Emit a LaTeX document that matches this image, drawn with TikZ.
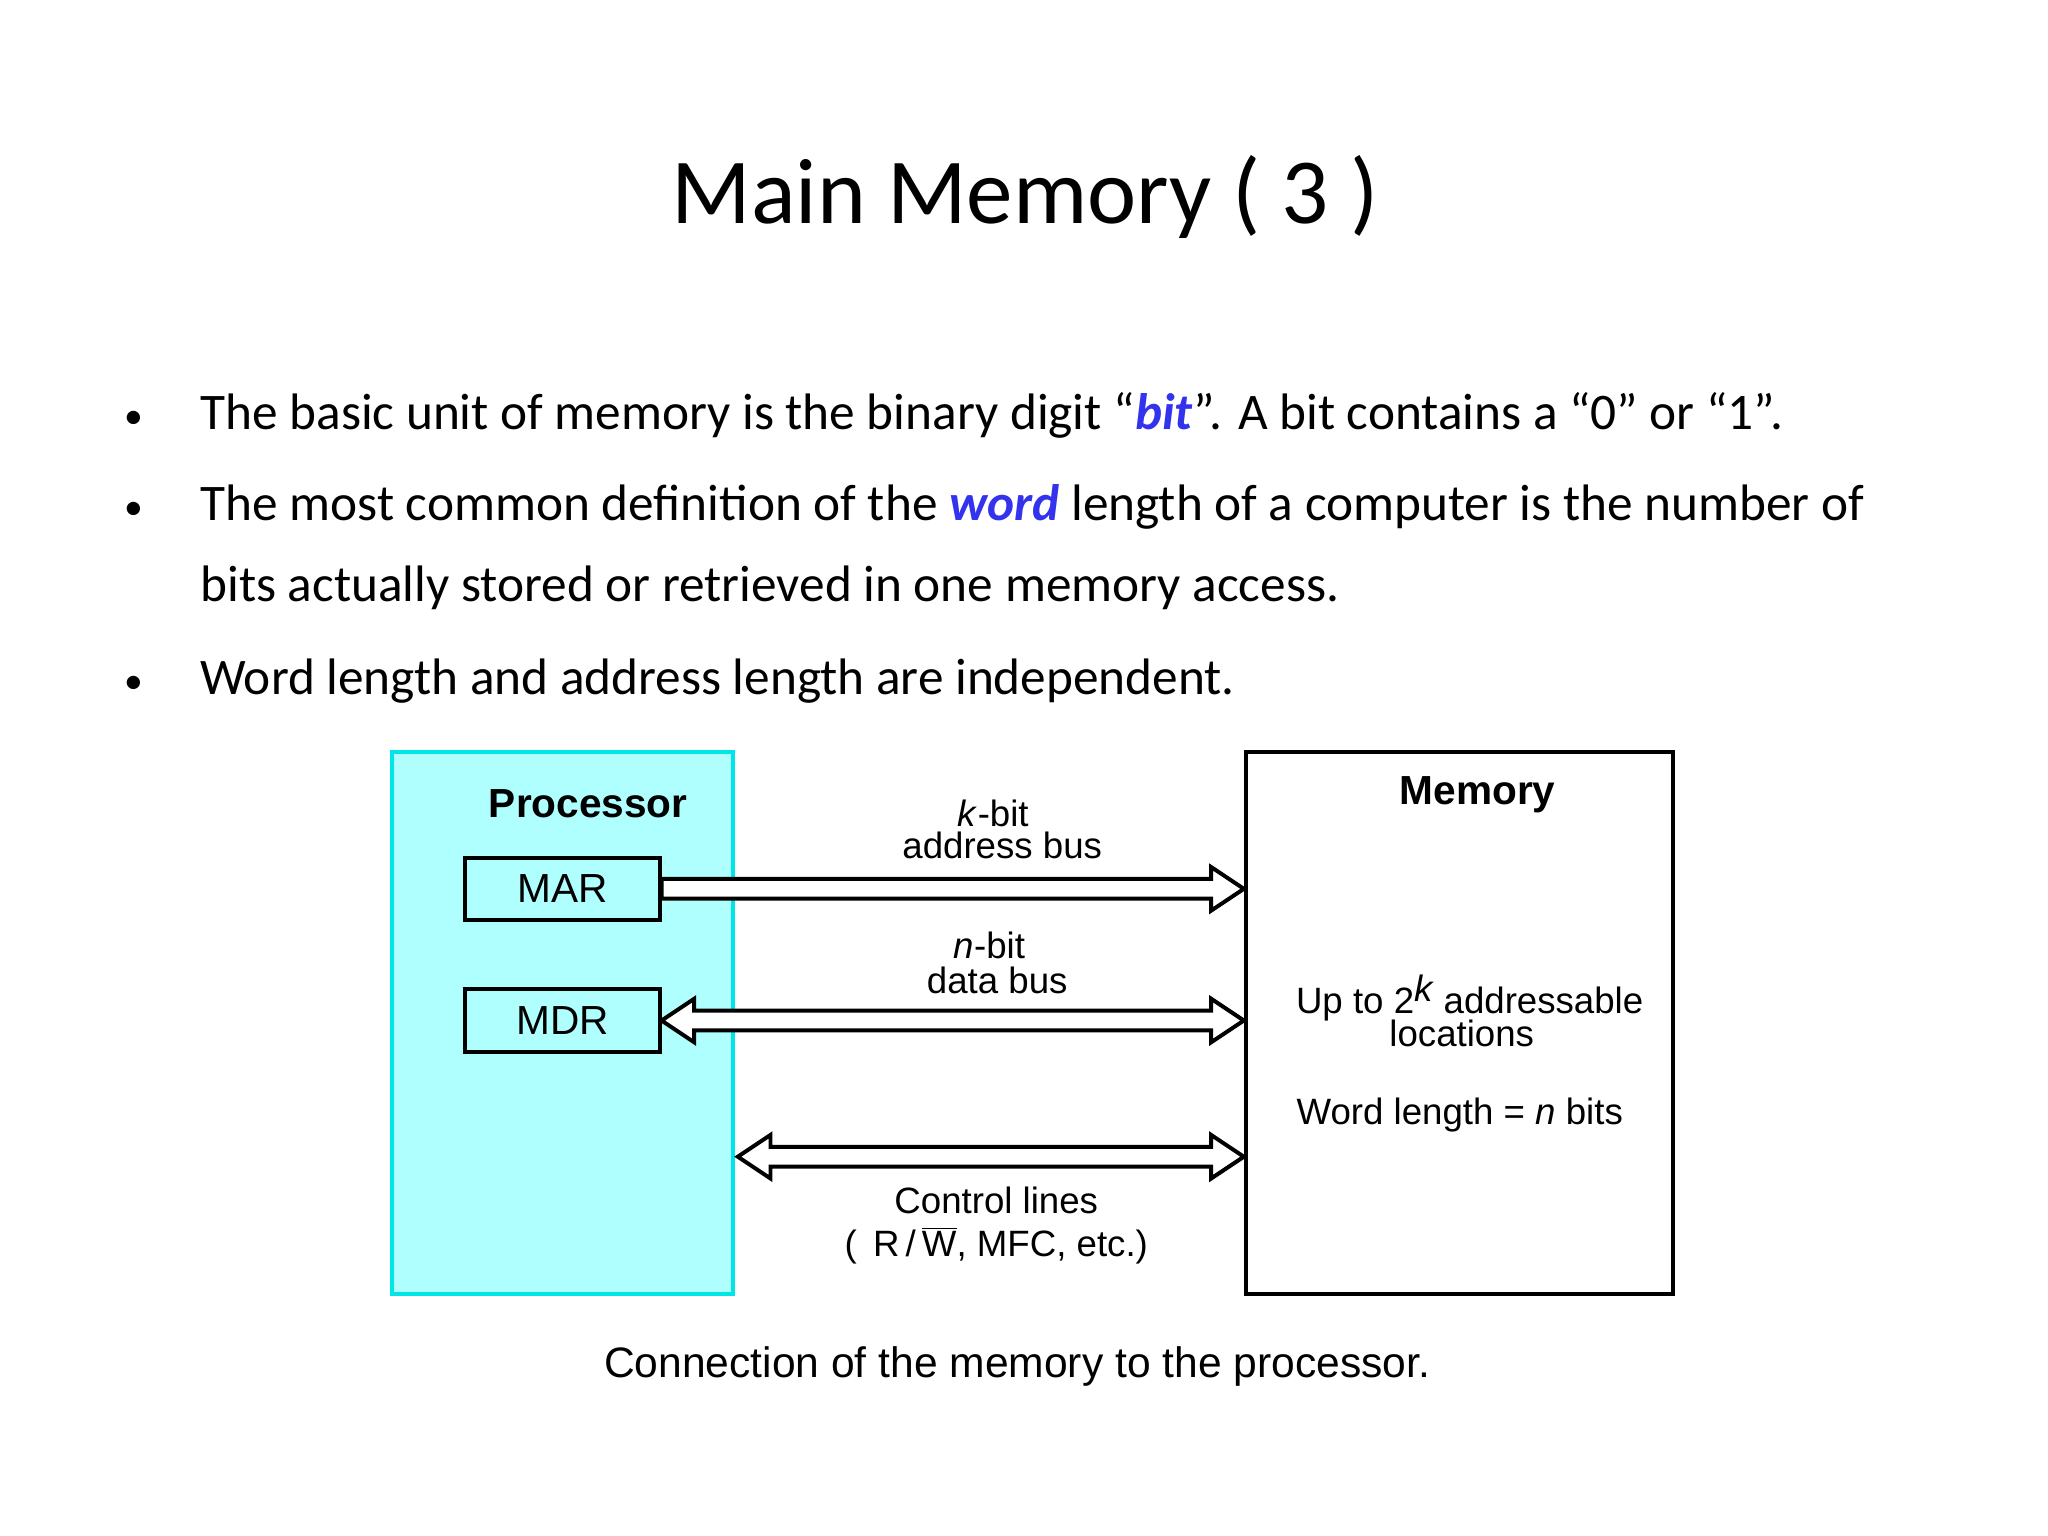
\documentclass[tikz,border=0pt]{standalone}
\usepackage{fontspec}
\setmainfont{Carlito}
\newfontfamily\arial{Liberation Sans}
\usetikzlibrary{calc}
\definecolor{procfill}{HTML}{B0FFFF}
\definecolor{procline}{HTML}{00E5E5}
\definecolor{kw}{HTML}{3333EE}
\begin{document}
\begin{tikzpicture}[x=0.5pt,y=-0.5pt,
  bul/.style={anchor=base west,font=\fontsize{25.9}{30}\selectfont,inner sep=0},
  lbl/.style={font=\arial\fontsize{18.5}{20}\selectfont,inner sep=0},
  reg/.style={draw,line width=2pt,minimum width=98pt,minimum height=31.5pt,font=\arial\fontsize{20.5}{24}\selectfont,inner sep=0},
  bus/.style={draw,line width=2pt,fill=white,line join=miter}]
\useasboundingbox (0,0) rectangle (2068,1551);
\node[font=\fontsize{47}{56}\selectfont] (title) at (1035,199) {Main Memory ( 3 )};
\foreach \y/\b in {426/b1,518/b2,693/b4}{\node[bul,font=\fontsize{19}{20}\selectfont] (\b) at (125,\y+7) {\textbullet};}
\node[bul] (t1) at (202,434) {The basic unit of memory is the binary digit “\textcolor{kw}{\textbf{\textit{bit}}}”. A bit contains a “0” or “1”.};
\node[bul] (t2) at (202,526) {The most common definition of the \textcolor{kw}{\textbf{\textit{word}}} length of a computer is the number of};
\node[bul] (t3) at (202,607) {bits actually stored or retrieved in one memory access.};
\node[bul] (t4) at (202,701) {Word length and address length are independent.};
% boxes
\node[draw=procline,fill=procfill,line width=2pt,minimum width=172pt,minimum height=274pt,inner sep=0] (proc) at (568,1033) {};
\node[draw,line width=2pt,minimum width=215.5pt,minimum height=274pt,inner sep=0] (mem) at (1473.5,1033) {};
\node[reg] (mar) at (568,897.5) {MAR};
\node[reg] (mdr) at (568,1030.5) {MDR};
\node[font=\arial\bfseries\fontsize{20.5}{24}\selectfont] (ptxt) at (594,812) {Processor};
\node[font=\arial\bfseries\fontsize{20.5}{24}\selectfont] (mtxt) at (1492,803) {Memory};
% buses
\coordinate (a1) at (mar.east);
\coordinate (a2) at (mem.west |- mar.east);
\draw[bus] ($(a1)+(0,-10)$) -- ($(a2)+(-33,-10)$) -- ($(a2)+(-33,-22)$) -- (a2) -- ($(a2)+(-33,22)$) -- ($(a2)+(-33,10)$) -- ($(a1)+(0,10)$) -- cycle;
\coordinate (d1) at (mdr.east);
\coordinate (d2) at (mem.west |- mdr.east);
\draw[bus] (d1) -- ($(d1)+(33,-22)$) -- ($(d1)+(33,-10)$) -- ($(d2)+(-33,-10)$) -- ($(d2)+(-33,-22)$) -- (d2) -- ($(d2)+(-33,22)$) -- ($(d2)+(-33,10)$) -- ($(d1)+(33,10)$) -- ($(d1)+(33,22)$) -- cycle;
\coordinate (c1) at ($(proc.east)+(3,135)$);
\coordinate (c2) at (mem.west |- c1);
\draw[bus] (c1) -- ($(c1)+(33,-22)$) -- ($(c1)+(33,-10)$) -- ($(c2)+(-33,-10)$) -- ($(c2)+(-33,-22)$) -- (c2) -- ($(c2)+(-33,22)$) -- ($(c2)+(-33,10)$) -- ($(c1)+(33,10)$) -- ($(c1)+(33,22)$) -- cycle;
% labels
\node[lbl] (kb) at (1003,821) {\textit{k}-bit};
\node[lbl] (ab) at (1012,854) {address bus};
\node[lbl] (nb) at (999,955) {\textit{n}-bit};
\node[lbl] (db) at (1007,990) {data bus};
\node[lbl] (cl) at (1006,1212) {Control lines};
\node[lbl] (cr) at (1006,1258) {( \,R\,/\,$\overline{\mbox{W}}$, MFC, etc.)};
\node[lbl] (up) at (1484,1008) {Up to 2$^{\textit{k}}$ addressable};
\node[lbl] (loc) at (1476,1043) {locations};
\node[lbl] (wl) at (1474,1126) {Word length = \textit{n} bits};
\node[font=\arial\fontsize{21.5}{24}\selectfont] (cap) at (1027,1380) {Connection of the memory to the processor.};
\end{tikzpicture}
\end{document}
